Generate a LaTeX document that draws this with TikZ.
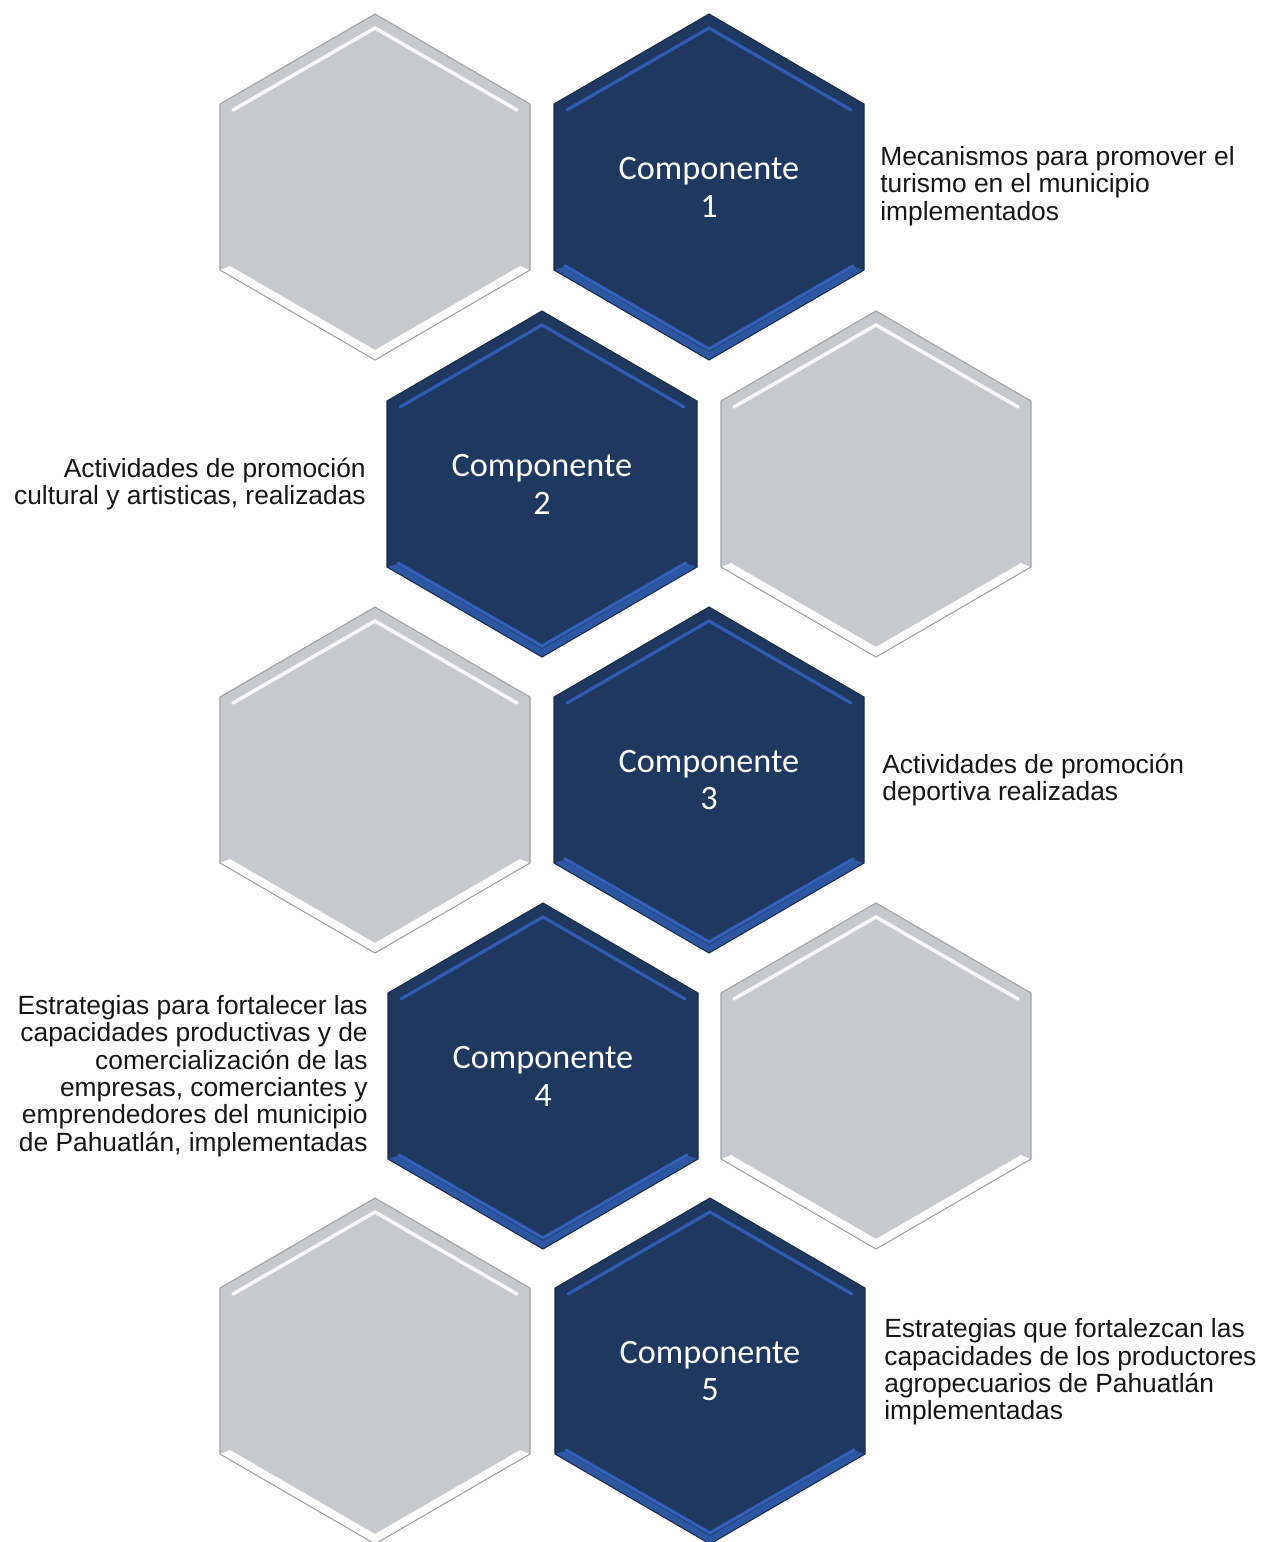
\documentclass[tikz,border=0pt]{standalone}
\usepackage{fontspec}
\setmainfont{Liberation Sans}
\newfontfamily\calibri{Carlito}
\usepackage{tikz}
\usetikzlibrary{positioning}

\definecolor{azulhex}{RGB}{31,56,95}
\definecolor{azulbrillo}{RGB}{50,96,186}
\definecolor{grishex}{RGB}{199,201,204}
\definecolor{grisborde}{RGB}{160,162,166}
\definecolor{textogris}{RGB}{22,22,22}

\tikzset{
	hexgris/.pic={
		\fill[grishex] (0,-173) -- (155,-83) -- (155,83) -- (0,173) -- (-155,83) -- (-155,-83) -- cycle;
		\fill[white!94!grishex] (-155,83) -- (0,173) -- (155,83) -- (145,79) -- (0,163) -- (-145,79) -- cycle;
		\draw[white!85!grishex, line width=2pt, line cap=round] (-142,-77) -- (0,-159) -- (142,-77);
		\draw[grisborde, line width=0.6pt] (0,-173) -- (155,-83) -- (155,83) -- (0,173) -- (-155,83) -- (-155,-83) -- cycle;
		\coordinate (-c) at (0,0);
	},
	hexazul/.pic={
		\fill[azulhex] (0,-173) -- (155,-83) -- (155,83) -- (0,173) -- (-155,83) -- (-155,-83) -- cycle;
		\fill[azulbrillo!75!azulhex] (-155,83) -- (0,173) -- (155,83) -- (146,80) -- (0,165) -- (-146,80) -- cycle;
		\draw[azulbrillo, line width=1.8pt, line cap=round] (-144,79) -- (0,162) -- (144,79);
		\draw[azulbrillo!90!azulhex, line width=1.8pt, line cap=round] (-142,-77) -- (0,-159) -- (142,-77);
		\draw[azulhex!80!black, line width=0.6pt] (0,-173) -- (155,-83) -- (155,83) -- (0,173) -- (-155,83) -- (-155,-83) -- cycle;
		\coordinate (-c) at (0,0);
	},
	componente/.style={text=white, align=center, inner sep=0pt, font=\calibri\fontsize{19.5}{21.5}\selectfont},
	etiqueta/.style={text=textogris, inner sep=0pt, font=\fontsize{15}{15.6}\selectfont}
}

\begin{document}
\begin{tikzpicture}[x=0.02cm, y=-0.02cm]

	\fill[white] (0,0) rectangle (1265,1542);
	\useasboundingbox (0,0) rectangle (1265,1542);

	\pic (g1) at (375,187) {hexgris};
	\pic (a1) at (709,187) {hexazul};
	\pic (a2) at (542,484) {hexazul};
	\pic (g2) at (876,484) {hexgris};
	\pic (g3) at (375,780) {hexgris};
	\pic (a3) at (709,780) {hexazul};
	\pic (a4) at (543,1076) {hexazul};
	\pic (g4) at (876,1076) {hexgris};
	\pic (g5) at (375,1371) {hexgris};
	\pic (a5) at (710,1371) {hexazul};

	\node[componente] (c1) at (a1-c) {Componente\\1};
	\node[componente] (c2) at (a2-c) {Componente\\2};
	\node[componente] (c3) at (a3-c) {Componente\\3};
	\node[componente] (c4) at (a4-c) {Componente\\4};
	\node[componente] (c5) at (a5-c) {Componente\\5};

	\node[etiqueta, anchor=west, align=left] (t1) at (880,186) {Mecanismos para promover el\\turismo en el municipio\\implementados};
	\node[etiqueta, anchor=east, align=right] (t2) at (366,484) {Actividades de promoción\\cultural y artisticas, realizadas};
	\node[etiqueta, anchor=west, align=left] (t3) at (882,780) {Actividades de promoción\\deportiva realizadas};
	\node[etiqueta, anchor=east, align=right] (t4) at (368,1076) {Estrategias para fortalecer las\\capacidades productivas y de\\comercialización de las\\empresas, comerciantes y\\emprendedores del municipio\\de Pahuatlán, implementadas};
	\node[etiqueta, anchor=west, align=left] (t5) at (884,1372) {Estrategias que fortalezcan las\\capacidades de los productores\\agropecuarios de Pahuatlán\\implementadas};

\end{tikzpicture}
\end{document}
